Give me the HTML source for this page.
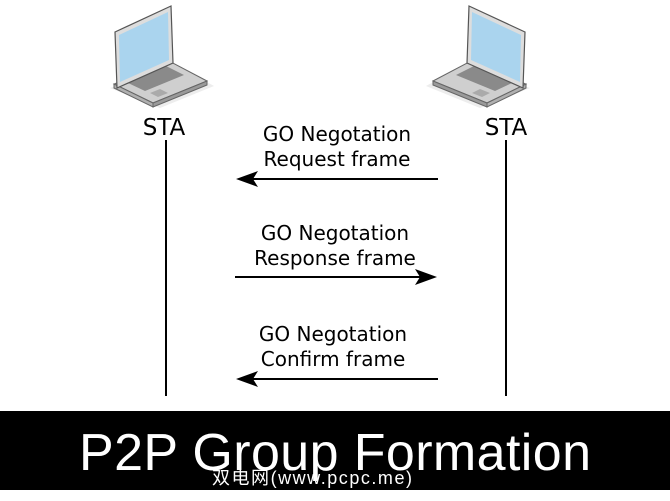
<!DOCTYPE html>
<html><head><meta charset="utf-8"><style>
html,body{margin:0;padding:0;background:#fff;}
body{width:670px;height:501px;overflow:hidden;position:relative;}
svg{position:absolute;left:0;top:0;}
</style></head><body>
<svg width="670" height="501" viewBox="0 0 670 501" xmlns="http://www.w3.org/2000/svg">
<defs>
<g id="lap">
  <polygon points="110,88 160,108 214,86 178,66" fill="#e8e8e8" opacity="0.8"/>
  <polygon points="114,84 153,103 207,81 171,62" fill="#cfcfcf" stroke="#666" stroke-width="1"/>
  <polygon points="114,84 153,103 153,107 114,88" fill="#b0b0b0" stroke="#666" stroke-width="1"/>
  <polygon points="153,103 207,81 207,85 153,107" fill="#9a9a9a" stroke="#666" stroke-width="1"/>
  <polygon points="126,82 166,66 184,75 145,91" fill="#8a8a8a"/>
  <polygon points="150,93 160,89 168,93 158,97" fill="#aaa"/>
  <polygon points="115,32 171,6 173,63 117,88" fill="#ddd" stroke="#555" stroke-width="1.2"/>
  <polygon points="119,35 168,12 169,60 120,82" fill="#aad4ee"/>
</g>
</defs>
<use href="#lap"/>
<use href="#lap" transform="translate(640,0) scale(-1,1)"/>
<g font-family="DejaVu Sans, sans-serif" fill="#000">
<text x="164" y="135" font-size="23" text-anchor="middle">STA</text>
<text x="506" y="135" font-size="23" text-anchor="middle">STA</text>
<g font-size="20" text-anchor="middle">
<text x="337" y="141">GO Negotation</text>
<text x="337" y="166">Request frame</text>
<text x="335" y="240">GO Negotation</text>
<text x="335" y="265">Response frame</text>
<text x="333" y="341">GO Negotation</text>
<text x="333" y="366">Confirm frame</text>
</g>
</g>
<g stroke="#000" stroke-width="2">
<line x1="166" y1="140" x2="166" y2="396"/>
<line x1="506" y1="140" x2="506" y2="396"/>
<line x1="250" y1="179" x2="438" y2="179"/>
<line x1="235" y1="277" x2="422" y2="277"/>
<line x1="250" y1="379" x2="438" y2="379"/>
</g>
<polygon points="236,179 258,171 253,179 258,187" fill="#000"/>
<polygon points="437,277 415,269 420,277 415,285" fill="#000"/>
<polygon points="236,379 258,371 253,379 258,387" fill="#000"/>
<rect x="0" y="411" width="670" height="79" fill="#000"/>
<text x="335" y="470" font-family="Liberation Sans, sans-serif" font-size="52" fill="#fff" text-anchor="middle" textLength="512">P2P Group Formation</text>
<text x="212" y="484" font-family="Liberation Sans, Noto Sans CJK SC, sans-serif" font-size="18" fill="#fff" textLength="200">双电网(www.pcpc.me)</text>
</svg>
</body></html>
